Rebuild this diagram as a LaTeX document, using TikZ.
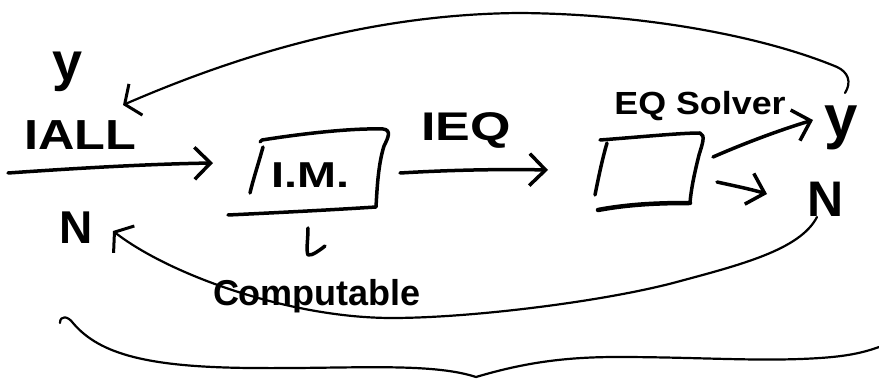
\documentclass[tikz,border=0pt]{standalone}
\usepackage{fontspec}
\setmainfont{Liberation Sans}
\usetikzlibrary{arrows.meta}

\tikzset{
  hand/.style={line width=3.5pt, line cap=round, line join=round},
  thin hand/.style={line width=2.2pt, line cap=round, line join=round},
  arr/.style={hand, -{Straight Barb[length=16pt, width=32pt]}},
  back arr/.style={thin hand, -{Straight Barb[length=12pt, width=34pt, line width=3pt]}},
  lbl/.style={inner sep=0pt, font=\bfseries\fontsize{#1}{#1}\selectfont},
  lbl/.default=36pt
}

\begin{document}
\begin{tikzpicture}[x=1pt, y=-1pt]
  \useasboundingbox (0,0) rectangle (879,379);

  % labels
  \node[lbl=54pt] (yL) at (68,72) {y};
  \node[lbl=42pt] (iall) at (80,135) {\scalebox{1.2}[1]{IALL}};
  \node[lbl=46pt] (nL) at (76,228) {N};
  \node[lbl=36pt] (imtext) at (310,175) {\scalebox{1.3}[1]{I.M.}};
  \node[lbl=40pt] (ieq) at (466,130) {\scalebox{1.3}[1]{IEQ}};
  \node[lbl=32pt] (eqs) at (700,106) {\scalebox{1.12}[1]{EQ Solver}};
  \node[lbl=60pt] (yR) at (841,128) {y};
  \node[lbl=50pt] (nR) at (826,199) {N};
  \node[lbl=36pt] (comp) at (317,296) {Computable};

  % I.M. box
  \draw[hand] (260,142) -- (262,140) .. controls (300,134) and (350,128) .. (383,129)
    .. controls (392,130) and (388,138) .. (384,146)
    .. controls (378,165) and (377,190) .. (376,207)
    .. controls (330,210) and (270,213) .. (228,215);
  \draw[hand] (263,147) .. controls (258,165) and (253,180) .. (250,193);

  % EQ solver box
  \draw[hand] (600,140) .. controls (640,137) and (680,133) .. (700,133)
    .. controls (706,135) and (702,145) .. (699,155)
    .. controls (694,175) and (691,190) .. (690,203);
  \draw[hand, line width=4.5pt] (598,210) .. controls (630,204) and (660,203) .. (690,203);
  \draw[hand] (607,143) .. controls (602,160) and (598,180) .. (595,195);

  % small mark under the I.M. box
  \draw[hand] (308,228) .. controls (308,240) and (306,250) .. (308,255) .. controls (312,256) and (320,250) .. (325,246);

  % connector end points
  \coordinate (inS) at (8,173);
  \coordinate (inE) at (213,163);
  \coordinate (imOut) at (400,173);
  \coordinate (eqIn) at (548,170);
  \coordinate (eqOut1) at (713,157);
  \coordinate (toY) at (813,120);
  \coordinate (eqOut2) at (717,182);
  \coordinate (toN) at (767,194);
  \coordinate (fbTop) at (845,93);
  \coordinate (yTip) at (123,105);
  \coordinate (fbBot) at (817,217);
  \coordinate (nTip) at (113,231);

  % forward arrows
  \draw[arr] (inS) .. controls (80,168) and (150,164) .. (inE);
  \draw[arr] (imOut) .. controls (450,170) and (500,169) .. (eqIn);
  \draw[arr] (eqOut1) .. controls (745,143) and (780,130) .. (toY);
  \draw[arr] (eqOut2) .. controls (735,186) and (750,189) .. (toN);

  % feedback curves
  \draw[back arr] (fbTop) .. controls (852,82) and (848,72) .. (837,67)
    .. controls (760,35) and (640,14) .. (520,13)
    .. controls (380,14) and (250,50) .. (yTip);
  \draw[back arr] (fbBot) .. controls (800,250) and (740,265) .. (673,283)
    .. controls (600,302) and (470,318) .. (392,318)
    .. controls (290,318) and (170,275) .. (nTip);

  % brace underneath
  \draw[thin hand] (60,323) .. controls (60,315) and (68,316) .. (73,323)
    .. controls (100,355) and (150,367) .. (250,368)
    .. controls (350,369) and (430,362) .. (476,377)
    .. controls (520,364) and (560,357) .. (617,357)
    .. controls (700,357) and (760,362) .. (820,358)
    .. controls (850,356) and (865,352) .. (879,347);
\end{tikzpicture}
\end{document}
